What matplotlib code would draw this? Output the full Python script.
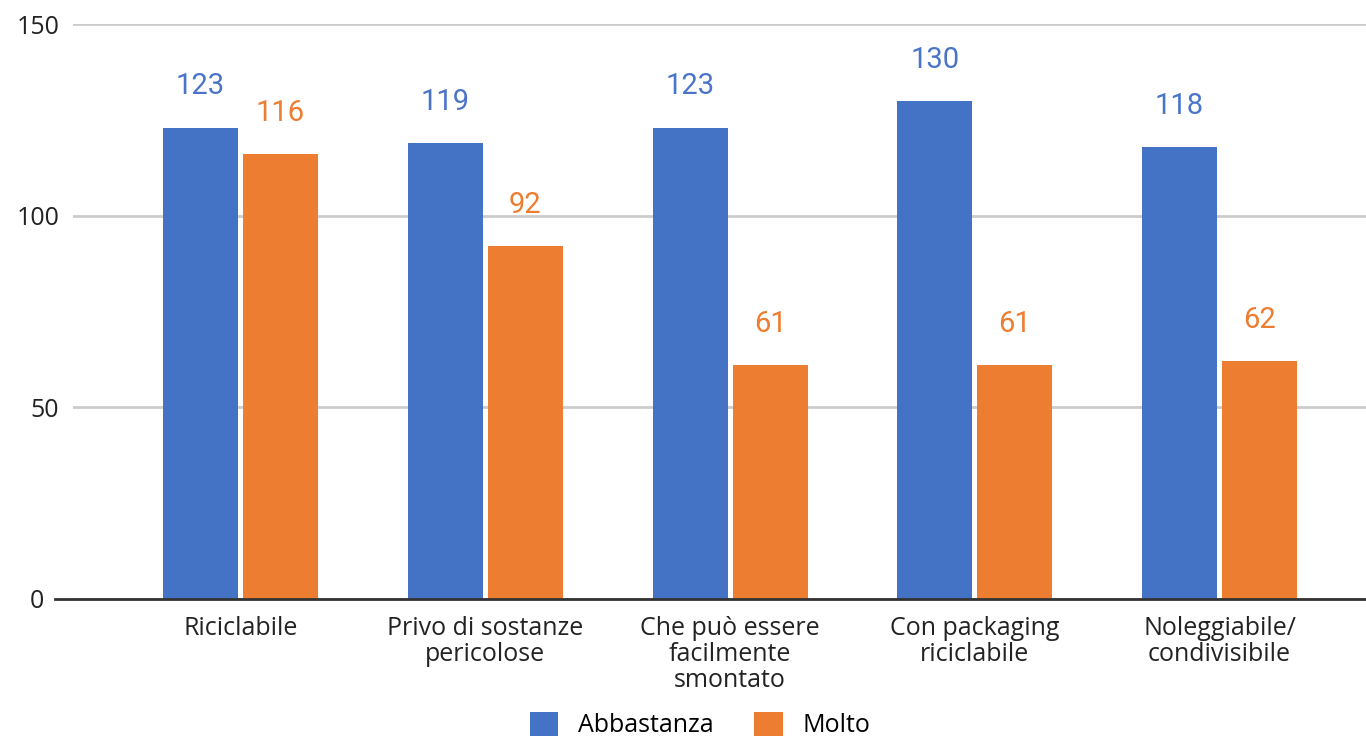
import matplotlib
matplotlib.use("Agg")
import matplotlib.pyplot as plt
import matplotlib.transforms as mtransforms
import numpy as np
from matplotlib.lines import Line2D
from matplotlib.patches import Patch

categories = ["Riciclabile", "Privo di sostanze\npericolose", "Che può essere\nfacilmente\nsmontato",
              "Con packaging\nriciclabile", "Noleggiabile/\ncondivisibile"]
abbastanza = [123, 119, 123, 130, 118]
molto = [116, 92, 61, 61, 62]
series_names = ["Abbastanza", "Molto"]
yticks = [0, 50, 100, 150]

BLUE = "#4472C4"
ORANGE = "#ED7D31"
W, H = 1366, 743

fig = plt.figure(figsize=(W / 100, H / 100), dpi=100)
ax_left, ax_right = 73 / W, 1.0
ax_bottom, ax_top = (H - 599) / H, (H - 24) / H
ax = fig.add_axes([ax_left, ax_bottom, ax_right - ax_left, ax_top - ax_bottom])

spacing = 244.75
bw = 75 / spacing
gap = 5 / spacing
x = np.arange(len(categories))
xb = x - (bw + gap) / 2
xo = x + (bw + gap) / 2
ax.bar(xb, abbastanza, width=bw, color=BLUE, zorder=3)
ax.bar(xo, molto, width=bw, color=ORANGE, zorder=3)

for xi, v in zip(xb, abbastanza):
    ax.annotate(str(v), (xi, v), xytext=(0, 27), textcoords="offset pixels",
                ha="center", va="bottom", color="#4A74C9", fontsize=21, family="Roboto")
for xi, v in zip(xo, molto):
    ax.annotate(str(v), (xi, v), xytext=(0, 27), textcoords="offset pixels",
                ha="center", va="bottom", color="#ED7D31", fontsize=21, family="Roboto")

left_x = -(240.5 - 73) / spacing
ax.set_xlim(left_x, left_x + (W - 73) / spacing)
ax.set_ylim(0, 150)
ax.set_yticks(yticks)
ax.set_yticklabels([str(t) for t in yticks], fontsize=18, family="Open Sans", color="#222222")
ax.set_xticks(x)
ax.set_xticklabels(categories, fontsize=18, family="Open Sans", color="#222222", linespacing=1.07)
ax.tick_params(axis="both", length=0)
ax.tick_params(axis="y", pad=10)
ax.tick_params(axis="x", pad=12)
for s in ax.spines.values():
    s.set_visible(False)
ax.grid(axis="y", color="#cccccc", linewidth=2, zorder=0)
ax.set_axisbelow(True)

zero_label = ax.get_yticklabels()[0]
zero_label.set_transform(zero_label.get_transform() +
                         mtransforms.ScaledTranslation(-15 / 100, 0, fig.dpi_scale_trans))

y0 = (H - 599) / H
fig.add_artist(Line2D([55 / W, 1.0], [y0, y0], color="#333333", linewidth=2, zorder=5))

handles = [Patch(facecolor=BLUE, edgecolor="none"), Patch(facecolor=ORANGE, edgecolor="none")]
fig.legend(handles, series_names, loc="center", bbox_to_anchor=(700 / W, 18 / H), ncol=2,
           frameon=False, prop={"family": "Open Sans", "size": 18},
           handlelength=1.15, handleheight=1.15, handletextpad=0.8, columnspacing=1.6, borderpad=0)

fig.savefig("out.png", dpi=100, facecolor="white")
